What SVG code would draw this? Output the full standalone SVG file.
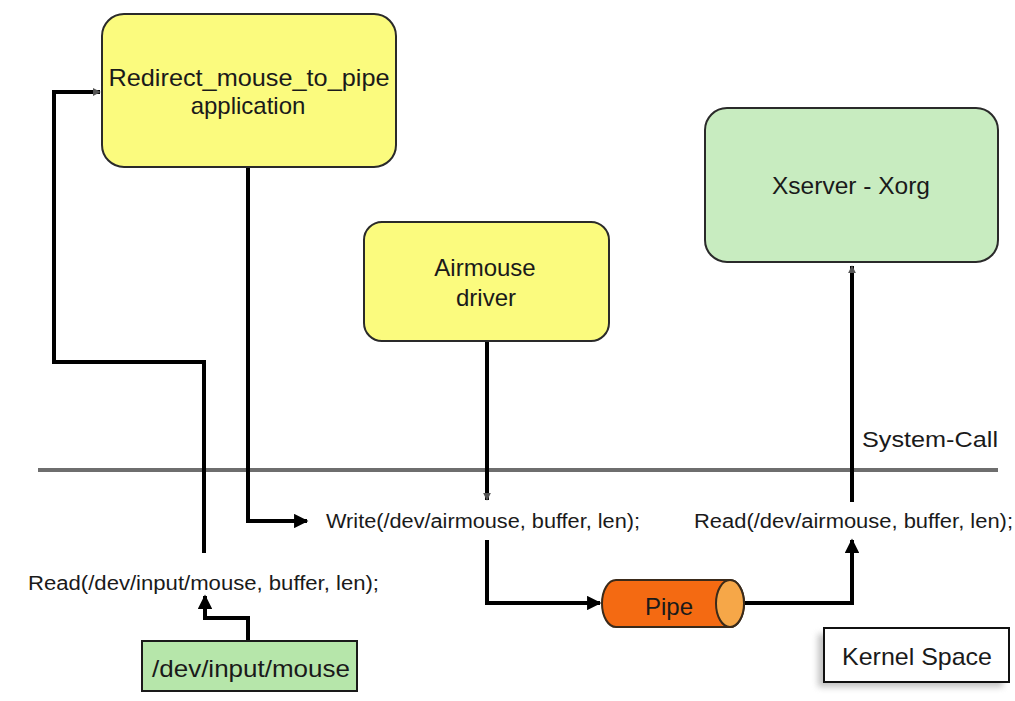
<svg xmlns="http://www.w3.org/2000/svg" width="1015" height="701" viewBox="0 0 1015 701">
  <style>
    text { font-family: "Liberation Sans", Arial, sans-serif; fill: #1a1a1a; }
    .lbl { font-size: 24px; text-anchor: middle; }
    .call { font-size: 20px; }
    .wire { fill: none; stroke: #000; stroke-width: 4; stroke-linejoin: miter; }
    .box-y { fill: #fbfb7e; stroke: #2a2a2a; stroke-width: 2; }
    .box-g { fill: #c8ecc0; stroke: #2a2a2a; stroke-width: 2; }
  </style>
  <defs>
    <marker id="arrow" viewBox="0 0 10 10" refX="9" refY="5" markerWidth="4" markerHeight="3.6" orient="auto" markerUnits="strokeWidth">
      <path d="M0,0 L10,5 L0,10 z" fill="#000"/>
    </marker>
    <marker id="tick" viewBox="0 0 10 10" refX="9" refY="5" markerWidth="2" markerHeight="2.2" orient="auto" markerUnits="strokeWidth">
      <path d="M0,0 L10,5 L0,10 z" fill="#555"/>
    </marker>
    <filter id="shadow" x="-20%" y="-30%" width="140%" height="160%">
      <feGaussianBlur stdDeviation="3"/>
    </filter>
  </defs>

  <rect width="1015" height="701" fill="#ffffff"/>

  <!-- user / kernel boundary -->
  <line x1="38" y1="470" x2="998" y2="470" stroke="#6e6e6e" stroke-width="4"/>
  <text x="862" y="447" font-size="22" textLength="136" lengthAdjust="spacingAndGlyphs">System-Call</text>

  <!-- connectors -->
  <g id="connectors">
    <path class="wire" d="M204,553 V362 H54 V92 H100" marker-end="url(#tick)"/>
    <path class="wire" d="M248,167 V521 H307" marker-end="url(#arrow)"/>
    <path class="wire" d="M487,341 V500" marker-end="url(#tick)"/>
    <path class="wire" d="M487,540 V603 H600" marker-end="url(#arrow)"/>
    <path class="wire" d="M745,603 H852 V540" marker-end="url(#arrow)"/>
    <path class="wire" d="M852,502 V266" marker-end="url(#tick)"/>
    <path class="wire" d="M248,641 V618 H205 V596" marker-end="url(#arrow)"/>
  </g>

  <!-- system call texts -->
  <text class="call" x="28" y="590" textLength="351" lengthAdjust="spacingAndGlyphs">Read(/dev/input/mouse,  buffer, len);</text>
  <text class="call" x="326" y="528" textLength="314" lengthAdjust="spacingAndGlyphs">Write(/dev/airmouse,  buffer, len);</text>
  <text class="call" x="694" y="528" textLength="319" lengthAdjust="spacingAndGlyphs">Read(/dev/airmouse,  buffer, len);</text>

  <g id="redirect-app">
    <rect class="box-y" x="102" y="14" width="294" height="153" rx="22"/>
    <text class="lbl" x="249" y="86" textLength="281" lengthAdjust="spacingAndGlyphs">Redirect_mouse_to_pipe</text>
    <text class="lbl" x="248" y="114">application</text>
  </g>

  <g id="airmouse-driver">
    <rect class="box-y" x="364" y="222" width="245" height="119" rx="18"/>
    <text class="lbl" x="485" y="276">Airmouse</text>
    <text class="lbl" x="486" y="306">driver</text>
  </g>

  <g id="xserver">
    <rect class="box-g" x="705" y="108" width="293" height="154" rx="22"/>
    <text class="lbl" x="851" y="194" textLength="158" lengthAdjust="spacingAndGlyphs">Xserver - Xorg</text>
  </g>

  <g id="pipe">
    <path d="M616,580 H730 A14,23.5 0 0 1 730,627 H616 A14,23.5 0 0 1 616,580 z" fill="#f46a12" stroke="#3a2a1a" stroke-width="2"/>
    <ellipse cx="730" cy="603.5" rx="14" ry="23.5" fill="#f6a748" stroke="#3a2a1a" stroke-width="2"/>
    <text class="lbl" x="669" y="615">Pipe</text>
  </g>

  <g id="dev-input-mouse">
    <rect x="142" y="641" width="215" height="50" fill="#b6e6aa" stroke="#1a1a1a" stroke-width="2"/>
    <text class="lbl" x="251" y="677" textLength="198" lengthAdjust="spacingAndGlyphs">/dev/input/mouse</text>
  </g>

  <g id="kernel-space">
    <rect x="818" y="634" width="185" height="53" fill="#9a9a9a" opacity="0.6" filter="url(#shadow)"/>
    <rect x="824" y="628" width="185" height="54" fill="#ffffff" stroke="#111" stroke-width="2"/>
    <text class="lbl" x="917" y="665" textLength="150" lengthAdjust="spacingAndGlyphs">Kernel Space</text>
  </g>
</svg>
